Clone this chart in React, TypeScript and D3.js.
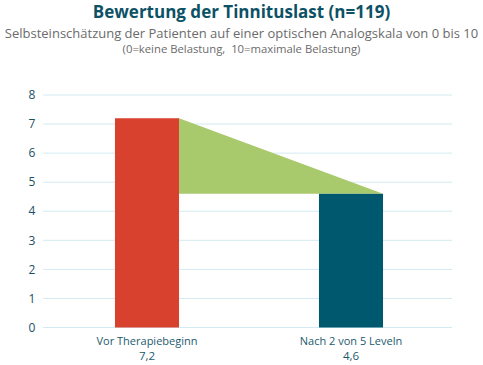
import React, { useEffect, useRef } from "react";
import * as d3 from "d3";

const categories = ["Vor Therapiebeginn", "Nach 2 von 5 Leveln"];
const values = [7.2, 4.6];
const valueLabels = ["7,2", "4,6"];
const yTicks = [0, 1, 2, 3, 4, 5, 6, 7, 8];

const title = "Bewertung der Tinnituslast (n=119)";
const subtitle = "Selbsteinschätzung der Patienten auf einer optischen Analogskala von 0 bis 10";
const note = "(0=keine Belastung,  10=maximale Belastung)";

const W = 483;
const H = 365;

export default function App() {
  const ref = useRef<SVGSVGElement>(null);

  useEffect(() => {
    const svg = d3.select(ref.current);
    svg.selectAll("*").remove();

    const font = "'Open Sans', Lato, sans-serif";

    const x = d3
      .scaleBand()
      .domain(categories)
      .range([45, 453])
      .paddingInner(0.686)
      .paddingOuter(0.343);
    const y = d3.scaleLinear().domain([0, 8]).range([327.5, 95]);

    // titles
    svg
      .append("text")
      .attr("x", W / 2)
      .attr("y", 18)
      .attr("text-anchor", "middle")
      .attr("font-family", font)
      .attr("font-weight", "bold")
      .attr("font-size", 17)
      .attr("fill", "#0d5166")
      .text(title);
    svg
      .append("text")
      .attr("x", W / 2)
      .attr("y", 38)
      .attr("text-anchor", "middle")
      .attr("font-family", font)
      .attr("font-size", 13)
      .attr("fill", "#6b6b6b")
      .text(subtitle);
    svg
      .append("text")
      .attr("x", W / 2)
      .attr("y", 53)
      .attr("text-anchor", "middle")
      .attr("font-family", font)
      .attr("font-size", 11.3)
      .attr("fill", "#6b6b6b")
      .style("white-space", "pre")
      .text(note);

    // grid
    const grid = svg.append("g");
    grid
      .selectAll("line")
      .data(yTicks)
      .enter()
      .append("line")
      .attr("x1", 43)
      .attr("x2", 452)
      .attr("y1", (d) => y(d))
      .attr("y2", (d) => y(d))
      .attr("stroke", "#d3eaf2")
      .attr("stroke-width", 1);
    grid
      .selectAll("text")
      .data(yTicks)
      .enter()
      .append("text")
      .attr("x", 32)
      .attr("y", (d) => y(d))
      .attr("dy", "0.35em")
      .attr("text-anchor", "middle")
      .attr("font-family", font)
      .attr("font-size", 12)
      .attr("fill", "#1b4f63")
      .text((d) => d);

    // green connector
    const x0 = x(categories[0])! + x.bandwidth();
    const x1 = x(categories[1])! + x.bandwidth();
    svg
      .append("path")
      .attr(
        "d",
        d3.line()([
          [x0, y(values[0])],
          [x1, y(values[1])],
          [x0, y(values[1])],
        ]) + "Z"
      )
      .attr("fill", "#a9c96d");

    // bars
    const colors = ["#d9412f", "#00586e"];
    svg
      .selectAll("rect.bar")
      .data(values)
      .enter()
      .append("rect")
      .attr("class", "bar")
      .attr("x", (d, i) => x(categories[i])!)
      .attr("y", (d) => y(d))
      .attr("width", x.bandwidth())
      .attr("height", (d) => y(0) - y(d))
      .attr("fill", (d, i) => colors[i]);

    // x labels
    const lab = svg.append("g");
    categories.forEach((c, i) => {
      const cx = x(c)! + x.bandwidth() / 2;
      lab
        .append("text")
        .attr("x", cx)
        .attr("y", 345)
        .attr("text-anchor", "middle")
        .attr("font-family", font)
        .attr("font-size", 11)
        .attr("fill", "#1b5a6e")
        .text(c);
      lab
        .append("text")
        .attr("x", cx)
        .attr("y", 360)
        .attr("text-anchor", "middle")
        .attr("font-family", font)
        .attr("font-size", 11.5)
        .attr("fill", "#1b5a6e")
        .text(valueLabels[i]);
    });
  }, []);

  return (
    <svg
      ref={ref}
      width={W}
      height={H}
      style={{ position: "absolute", left: 0, top: 0, background: "#fff" }}
    />
  );
}
